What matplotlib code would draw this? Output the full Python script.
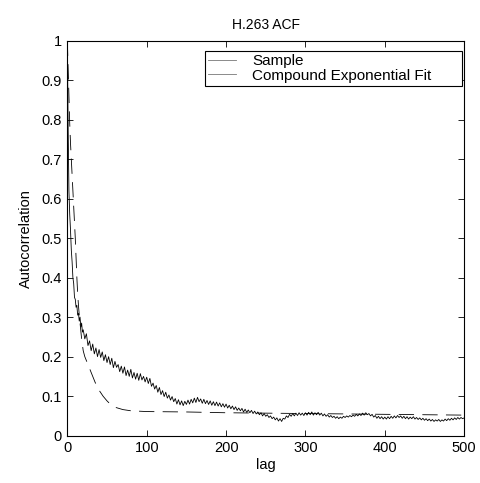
import matplotlib
matplotlib.use('Agg')
import matplotlib.pyplot as plt

plt.rcParams['font.family'] = ['Liberation Sans', 'DejaVu Sans']
plt.rcParams['lines.scale_dashes'] = False

# sample ACF: lag 0..19 step 1, then 20..500 step 2
sample_lags = list(range(0, 20)) + list(range(20, 501, 2))
sample_acf = [
    1.000, 0.780, 0.620, 0.560, 0.520, 0.470, 0.440, 0.400, 0.385, 0.350,
    0.345, 0.325, 0.330, 0.305, 0.310, 0.290, 0.300, 0.275, 0.285, 0.262,
    # 20-48
    0.268, 0.245, 0.258, 0.228, 0.240, 0.215, 0.232, 0.207, 0.222, 0.200,
    0.218, 0.198, 0.212, 0.190, 0.205,
    # 50-98
    0.185, 0.200, 0.180, 0.196, 0.172, 0.188, 0.173, 0.180, 0.162, 0.176,
    0.158, 0.174, 0.152, 0.166, 0.150, 0.168, 0.146, 0.160, 0.143, 0.158,
    0.140, 0.157, 0.141, 0.150, 0.136,
    # 100-148
    0.148, 0.132, 0.145, 0.125, 0.133, 0.118, 0.127, 0.110, 0.122, 0.104,
    0.114, 0.099, 0.110, 0.095, 0.103, 0.090, 0.099, 0.086, 0.094, 0.080,
    0.091, 0.078, 0.088, 0.076, 0.087,
    # 150-198
    0.079, 0.090, 0.080, 0.092, 0.083, 0.095, 0.084, 0.097, 0.086, 0.093,
    0.082, 0.092, 0.081, 0.089, 0.079, 0.088, 0.077, 0.086, 0.076, 0.085,
    0.075, 0.083, 0.073, 0.081, 0.072,
    # 200-248
    0.080, 0.070, 0.077, 0.068, 0.075, 0.066, 0.073, 0.064, 0.070, 0.063,
    0.069, 0.060, 0.067, 0.059, 0.065, 0.058, 0.064, 0.056, 0.062, 0.055,
    0.060, 0.053, 0.058, 0.050, 0.056,
    # 250-298
    0.049, 0.053, 0.046, 0.050, 0.043, 0.047, 0.040, 0.045, 0.037, 0.043,
    0.036, 0.044, 0.042, 0.050, 0.046, 0.054, 0.049, 0.056, 0.050, 0.057,
    0.051, 0.058, 0.052, 0.057, 0.051,
    # 300-348
    0.058, 0.052, 0.059, 0.053, 0.060, 0.052, 0.058, 0.053, 0.059, 0.052,
    0.057, 0.050, 0.055, 0.049, 0.053, 0.047, 0.051, 0.046, 0.049, 0.044,
    0.048, 0.043, 0.047, 0.044, 0.049,
    # 350-398
    0.046, 0.050, 0.047, 0.051, 0.048, 0.052, 0.049, 0.054, 0.050, 0.055,
    0.051, 0.057, 0.052, 0.058, 0.053, 0.056, 0.050, 0.054, 0.047, 0.051,
    0.044, 0.049, 0.043, 0.048, 0.042,
    # 400-448
    0.047, 0.042, 0.048, 0.043, 0.049, 0.044, 0.050, 0.045, 0.051, 0.046,
    0.050, 0.044, 0.049, 0.043, 0.048, 0.042, 0.047, 0.043, 0.048, 0.042,
    0.046, 0.041, 0.045, 0.040, 0.044,
    # 450-500
    0.039, 0.043, 0.038, 0.042, 0.037, 0.041, 0.036, 0.040, 0.037, 0.041,
    0.036, 0.040, 0.037, 0.042, 0.038, 0.043, 0.039, 0.044, 0.040, 0.045,
    0.041, 0.046, 0.042, 0.046, 0.043, 0.045,
]

# compound exponential fit
fit_lags = [0, 1, 2, 3, 4, 5, 6, 7, 8, 9, 10, 11, 12, 13, 14, 15, 16, 17, 18, 19,
            20, 22, 25, 30, 35, 40, 45, 50, 55, 60, 70, 80, 100, 150, 200, 250,
            300, 350, 400, 450, 500]
fit_acf = [1.0, 0.93, 0.86, 0.79, 0.74, 0.70, 0.66, 0.62, 0.58, 0.54,
           0.50, 0.45, 0.40, 0.36, 0.33, 0.305, 0.285, 0.265, 0.245, 0.23,
           0.215, 0.20, 0.185, 0.16, 0.135, 0.115, 0.10, 0.088, 0.078, 0.072,
           0.066, 0.063, 0.061, 0.060, 0.058, 0.057, 0.056, 0.055, 0.054, 0.053,
           0.052]

fig = plt.figure(figsize=(4.81, 4.83), dpi=100)
ax = fig.add_axes([0.140, 0.098, 0.825, 0.818])

ax.plot(sample_lags, sample_acf, color='black', linewidth=0.6, label='Sample')
ax.plot(fit_lags, fit_acf, color='black', linewidth=0.6, dashes=(11, 6),
        label='Compound Exponential Fit')

ax.set_xlim(0, 500)
ax.set_ylim(0, 1)
ax.set_xticks([0, 100, 200, 300, 400, 500])
ax.set_yticks([i / 10 for i in range(11)])
ax.set_yticklabels(['0', '0.1', '0.2', '0.3', '0.4', '0.5', '0.6', '0.7', '0.8', '0.9', '1'])
ax.tick_params(direction='in', length=4, width=0.6, labelsize=10.5,
               top=True, right=True, pad=4)
for s in ax.spines.values():
    s.set_linewidth(0.8)

ax.set_title('H.263 ACF', fontsize=10, pad=8)
ax.set_xlabel('lag', fontsize=10.5, labelpad=2)
ax.set_ylabel('Autocorrelation', fontsize=10.5, labelpad=6)

leg = ax.legend(loc='upper left', bbox_to_anchor=(0.347, 0.0, 0.648, 0.974),
                mode='expand', fontsize=11, fancybox=False, framealpha=1,
                edgecolor='black', handlelength=1.8, borderpad=0.2,
                labelspacing=0.05, borderaxespad=0.0, handletextpad=1.1)
leg.get_frame().set_linewidth(0.8)
for line in leg.get_lines():
    line.set_color('#777777')
    line.set_linestyle('-')

fig.savefig('out.png', dpi=100)
